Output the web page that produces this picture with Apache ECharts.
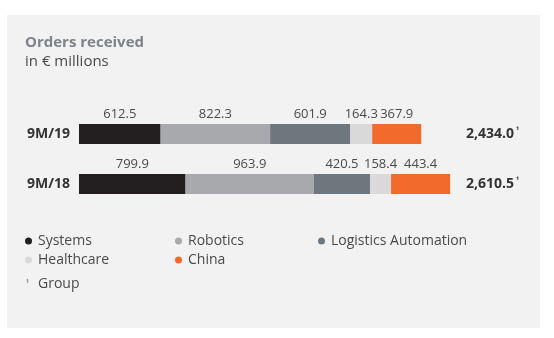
<!DOCTYPE html>
<html>
<head>
<meta charset="utf-8">
<script src="https://cdn.jsdelivr.net/npm/echarts@6/dist/echarts.min.js"></script>
<style>
html,body{margin:0;padding:0;background:#ffffff;}
#chart{width:554px;height:338px;}
</style>
</head>
<body>
<div id="chart"></div>
<script>
const categories = ['9M/19', '9M/18'];
const totals = ['2,434.0', '2,610.5'];
const systems = [612.5, 799.9];
const robotics = [822.3, 963.9];
const logistics = [601.9, 420.5];
const healthcare = [164.3, 158.4];
const china = [367.9, 443.4];

const FONT = '"Open Sans", "Noto Sans", sans-serif';
const colors = {
  'Systems': '#231f20',
  'Robotics': '#a7a9ac',
  'Logistics Automation': '#6e767e',
  'Healthcare': '#d9d9da',
  'China': '#f26a2c'
};
function mk(name, data) {
  return {
    name: name, type: 'bar', stack: 'total', data: data, barWidth: 20,
    itemStyle: { color: colors[name] },
    label: {
      show: true, position: 'top', distance: 3,
      fontFamily: FONT, fontSize: 13, color: '#4a4a4a',
      formatter: p => p.value.toFixed(1)
    },
    emphasis: { disabled: true }
  };
}
const chart = echarts.init(document.getElementById('chart'), null, { renderer: 'canvas' });
const legendBase = {
  orient: 'vertical', icon: 'circle', itemWidth: 7, itemHeight: 7, itemGap: 5,
  padding: 0,
  textStyle: { fontFamily: FONT, fontSize: 14, color: '#4a4a4a', padding: [0, 0, 0, 1] },
  selectedMode: false, top: 234
};
chart.setOption({
  animation: false,
  backgroundColor: '#ffffff',
  graphic: [
    { type: 'rect', left: 7, top: 15, z: -10, shape: { width: 533, height: 313 }, style: { fill: '#f3f2f2' } },
    { type: 'text', left: 26, top: 280, style: { text: '¹', fontFamily: FONT, fontSize: 9, fill: '#4a4a4a' } },
    { type: 'text', left: 38, top: 277, style: { text: 'Group', fontFamily: FONT, fontSize: 14, fill: '#4a4a4a' } }
  ],
  title: {
    left: 25, top: 35, itemGap: 4, padding: 0,
    text: 'Orders received',
    subtext: 'in € millions',
    textStyle: { fontFamily: FONT, fontSize: 15, fontWeight: 'bold', color: '#7b838b' },
    subtextStyle: { fontFamily: FONT, fontSize: 15, color: '#4a4a4a' }
  },
  legend: [
    Object.assign({}, legendBase, { left: 25, data: ['Systems', 'Healthcare'] }),
    Object.assign({}, legendBase, { left: 175, data: ['Robotics', 'China'] }),
    Object.assign({}, legendBase, { left: 318, data: ['Logistics Automation'] })
  ],
  grid: { left: 79, width: 373, top: 109, height: 100 },
  xAxis: { type: 'value', min: 0, max: 2800, show: false },
  yAxis: [
    {
      type: 'category', data: categories, inverse: true,
      axisLine: { show: false }, axisTick: { show: false }, splitLine: { show: false },
      axisLabel: { margin: 9, fontFamily: FONT, fontSize: 14, fontWeight: 'bold', color: '#333333' }
    },
    {
      type: 'category', data: totals, inverse: true, position: 'right',
      axisLine: { show: false }, axisTick: { show: false }, splitLine: { show: false },
      axisLabel: {
        margin: 14, align: 'left',
        formatter: v => '{v|' + v + '}{s|¹}',
        rich: {
          v: { fontFamily: FONT, fontSize: 14, fontWeight: 'bold', color: '#333333' },
          s: { fontFamily: FONT, fontSize: 8, fontWeight: 'bold', color: '#333333', padding: [0, 0, 6, 2] }
        }
      }
    }
  ],
  series: [
    mk('Systems', systems),
    mk('Robotics', robotics),
    mk('Logistics Automation', logistics),
    mk('Healthcare', healthcare),
    mk('China', china)
  ]
});
</script>
</body>
</html>
